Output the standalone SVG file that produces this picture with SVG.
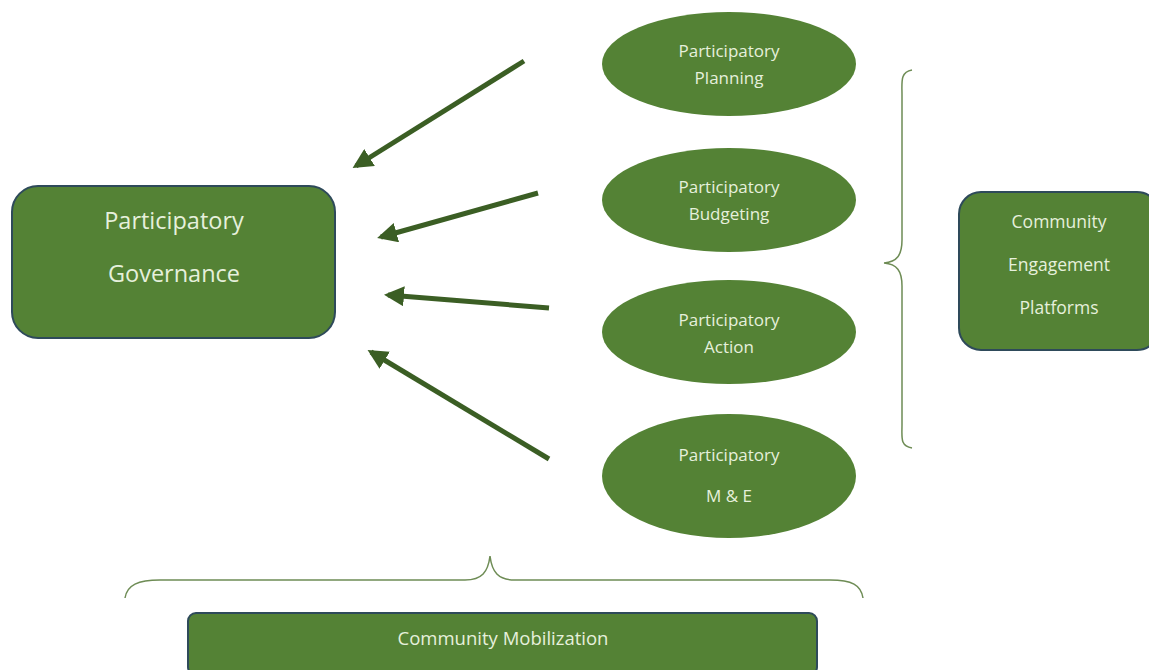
<svg xmlns="http://www.w3.org/2000/svg" width="1149" height="670" viewBox="0 0 1149 670">
<defs>
<style>
.box{fill:#548235;stroke:#2e4a5a;stroke-width:2}
.ell{fill:#548235;stroke:none}
.t{fill:#e6f0dc;font-family:"Open Sans","Liberation Sans",sans-serif;text-anchor:middle}
.conn{stroke:#3b5e24;stroke-width:5;fill:none;marker-end:url(#ah)}
.brace{fill:none;stroke:#6e8c55;stroke-width:1.5}
</style>
<marker id="ah" viewBox="0 0 10 10" refX="8" refY="5" markerWidth="4" markerHeight="4" orient="auto" markerUnits="strokeWidth">
<path d="M0,0 L10,5 L0,10 z" fill="#3b5e24"/>
</marker>
</defs>
<rect width="1149" height="670" fill="#ffffff"/>
<g id="governance">
<rect class="box" x="12" y="186" width="323" height="152" rx="26"/>
<text class="t" x="174" y="229" font-size="23.5">Participatory</text>
<text class="t" x="174" y="282" font-size="23.5">Governance</text>
</g>
<g id="planning">
<ellipse class="ell" cx="729" cy="64" rx="127" ry="52"/>
<text class="t" x="729" y="57" font-size="17">Participatory</text>
<text class="t" x="729" y="84" font-size="17">Planning</text>
</g>
<g id="budgeting">
<ellipse class="ell" cx="729" cy="200" rx="127" ry="52"/>
<text class="t" x="729" y="193" font-size="17">Participatory</text>
<text class="t" x="729" y="220" font-size="17">Budgeting</text>
</g>
<g id="action">
<ellipse class="ell" cx="729" cy="332" rx="127" ry="52"/>
<text class="t" x="729" y="326" font-size="17">Participatory</text>
<text class="t" x="729" y="353" font-size="17">Action</text>
</g>
<g id="me">
<ellipse class="ell" cx="729" cy="476" rx="127" ry="62"/>
<text class="t" x="729" y="461" font-size="17">Participatory</text>
<text class="t" x="729" y="502" font-size="17">M &amp; E</text>
</g>
<g id="platforms">
<rect class="box" x="959" y="192" width="200" height="158" rx="22"/>
<text class="t" x="1059" y="228" font-size="17.5">Community</text>
<text class="t" x="1059" y="271" font-size="17.5">Engagement</text>
<text class="t" x="1059" y="314" font-size="17.5">Platforms</text>
</g>
<g id="mobilization">
<rect class="box" x="188" y="613" width="629" height="62" rx="8"/>
<text class="t" x="503" y="645" font-size="18.5">Community Mobilization</text>
</g>
<g id="braces">
<path class="brace" d="M912,70 C900,72 902,82 902,95 L902,240 C902,255 897,262 884,263 C897,264 902,271 902,286 L902,425 C902,438 900,446 912,448"/>
<path class="brace" d="M125,598 C127,585 138,580 160,580 L465,580 C482,580 488,572 490,556 C492,572 498,580 515,580 L830,580 C852,580 861,585 863,598"/>
</g>
<g id="connectors">
<line class="conn" x1="524" y1="61" x2="356" y2="166"/>
<line class="conn" x1="538" y1="193" x2="381" y2="237"/>
<line class="conn" x1="549" y1="308" x2="388" y2="295"/>
<line class="conn" x1="549" y1="459" x2="371" y2="352"/>
</g>
</svg>
